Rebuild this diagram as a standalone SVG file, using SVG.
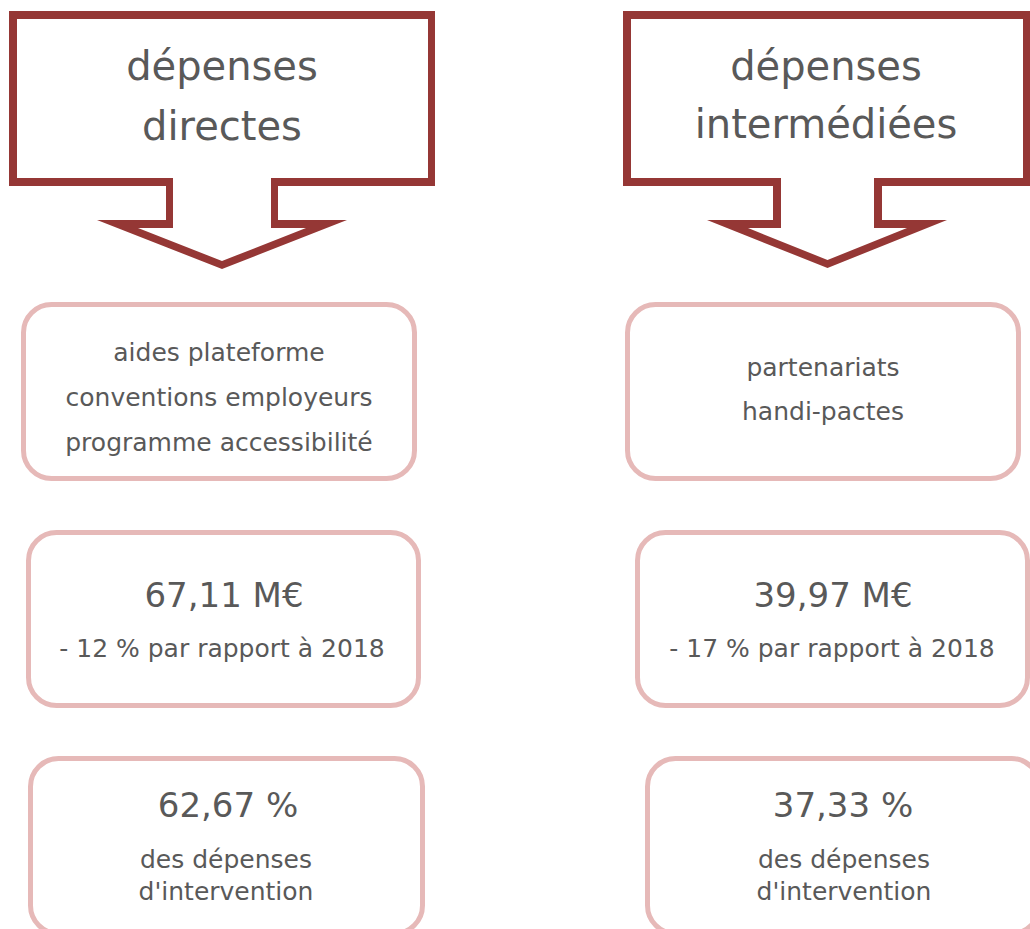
<svg xmlns="http://www.w3.org/2000/svg" width="1030" height="929" viewBox="0 0 1030 929">
<style>
.arrow{fill:#953735;fill-rule:evenodd;stroke:none}
.box{fill:#ffffff;stroke:#E6B9B8;stroke-width:5}
text{font-family:"DejaVu Sans","Liberation Sans",sans-serif;fill:#595959;text-anchor:middle}
.title{font-size:40px}
.big{font-size:34px}
.small{font-size:25px}
</style>
<rect width="1030" height="929" fill="#ffffff"/>
<g id="arrow-directes">
<path class="arrow" d="M9,11 H435 V186 H278 V220 H347 L222,269 L97,220 H166 V186 H9 Z M17,19 V178 H173 V228 H138 L222,261 L306,228 H271 V178 H428 V19 Z"/>
<text class="title" x="222" y="80">dépenses</text>
<text class="title" x="222" y="140">directes</text>
</g>
<g id="arrow-intermediees">
<path class="arrow" d="M623,11 H1031 V186 H882 V220 H947 L827.5,268 L707,220 H773 V186 H623 Z M631,19 V178 H781 V228 H748 L827.5,260 L907,228 H874 V178 H1023 V19 Z"/>
<text class="title" x="826" y="80">dépenses</text>
<text class="title" x="826" y="138">intermédiées</text>
</g>
<g id="box-left-1">
<rect class="box" x="23.5" y="304.5" width="391" height="174" rx="28"/>
<text class="small" x="219" y="361">aides plateforme</text>
<text class="small" x="219" y="406">conventions employeurs</text>
<text class="small" x="219" y="451">programme accessibilité</text>
</g>
<g id="box-right-1">
<rect class="box" x="627.5" y="304.5" width="391" height="174" rx="28"/>
<text class="small" x="823" y="376">partenariats</text>
<text class="small" x="823" y="420">handi-pactes</text>
</g>
<g id="box-left-2">
<rect class="box" x="28.5" y="532.5" width="390" height="173" rx="28"/>
<text class="big" x="224" y="607">67,11 M€</text>
<text class="small" x="222" y="657">- 12 % par rapport à 2018</text>
</g>
<g id="box-right-2">
<rect class="box" x="637.5" y="532.5" width="390" height="173" rx="28"/>
<text class="big" x="833" y="607">39,97 M€</text>
<text class="small" x="832" y="657">- 17 % par rapport à 2018</text>
</g>
<g id="box-left-3">
<rect class="box" x="30.5" y="758.5" width="392" height="175" rx="28"/>
<text class="big" x="228" y="817">62,67 %</text>
<text class="small" x="226" y="868">des dépenses</text>
<text class="small" x="226" y="900">d'intervention</text>
</g>
<g id="box-right-3">
<rect class="box" x="647.5" y="758.5" width="392" height="175" rx="28"/>
<text class="big" x="843" y="817">37,33 %</text>
<text class="small" x="844" y="868">des dépenses</text>
<text class="small" x="844" y="900">d'intervention</text>
</g>
<g id="connectors"></g>
</svg>
